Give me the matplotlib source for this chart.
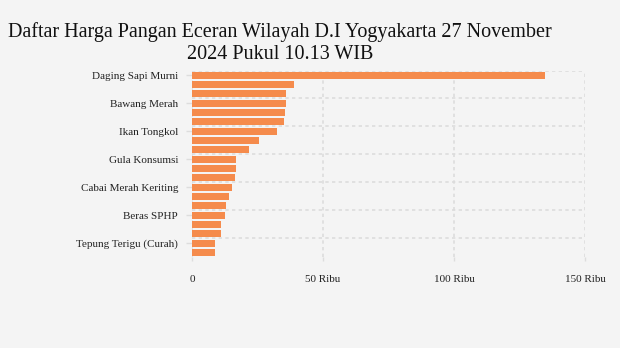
import numpy as np
import matplotlib
matplotlib.use('Agg')
from matplotlib import pyplot as plt

title = 'Daftar Harga Pangan Eceran Wilayah D.I Yogyakarta 27 November\n2024 Pukul 10.13 WIB'

# harga (Rupiah), urut dari atas ke bawah
values = [134700, 38900, 35900, 35900, 35500, 35100, 32400, 25600, 21800, 16800,
          16800, 16400, 15300, 14100, 13000, 12600, 11100, 11100, 8800, 8800]
label_pos = [0, 3, 6, 9, 12, 15, 18]
label_names = ['Daging Sapi Murni', 'Bawang Merah', 'Ikan Tongkol', 'Gula Konsumsi',
               'Cabai Merah Keriting', 'Beras SPHP', 'Tepung Terigu (Curah)']
x_ticks = [0, 50000, 100000, 150000]
x_labels = ['0', '50 Ribu', '100 Ribu', '150 Ribu']

bg = '#f4f4f4'
bar_color = '#f58b4c'
grid_color = '#dcdcdc'

fig = plt.figure(figsize=(6.2, 3.48), dpi=100, facecolor=bg)
ax = fig.add_axes([192/620, 1-257/348, (585-192)/620, (257-70.5)/348])
ax.set_facecolor(bg)

y = np.arange(len(values))
ax.barh(y, values, height=0.75, color=bar_color, zorder=3)

ax.set_xlim(0, 150000)
ax.set_ylim(len(values)-0.5, -0.5)

# grid: vertical at x ticks, horizontal at top of each labelled band
for xv in x_ticks:
    ax.axvline(xv, color=grid_color, lw=1.2, ls=(0, (2, 2)), zorder=1)
for p in label_pos:
    ax.axhline(p-0.5, color=grid_color, lw=1.2, ls=(0, (2, 2)), zorder=1)

ax.set_yticks(label_pos)
ax.set_yticklabels(label_names, fontsize=8, family='Liberation Serif', color='#222222')
ax.set_xticks(x_ticks)
ax.set_xticklabels(x_labels, fontsize=8, family='Liberation Serif', color='#222222')
ax.tick_params(axis='y', length=4, width=1, color='#dddddd', pad=6)
ax.tick_params(axis='x', length=3, width=1, color='#dddddd', pad=10)
for s in ax.spines.values():
    s.set_visible(False)

fig.text(0.452, 0.937, title, ha='center', va='top', fontsize=14.5,
         family='Liberation Serif', color='#111111', linespacing=1.2)

fig.savefig('out.png', dpi=100, facecolor=bg)
